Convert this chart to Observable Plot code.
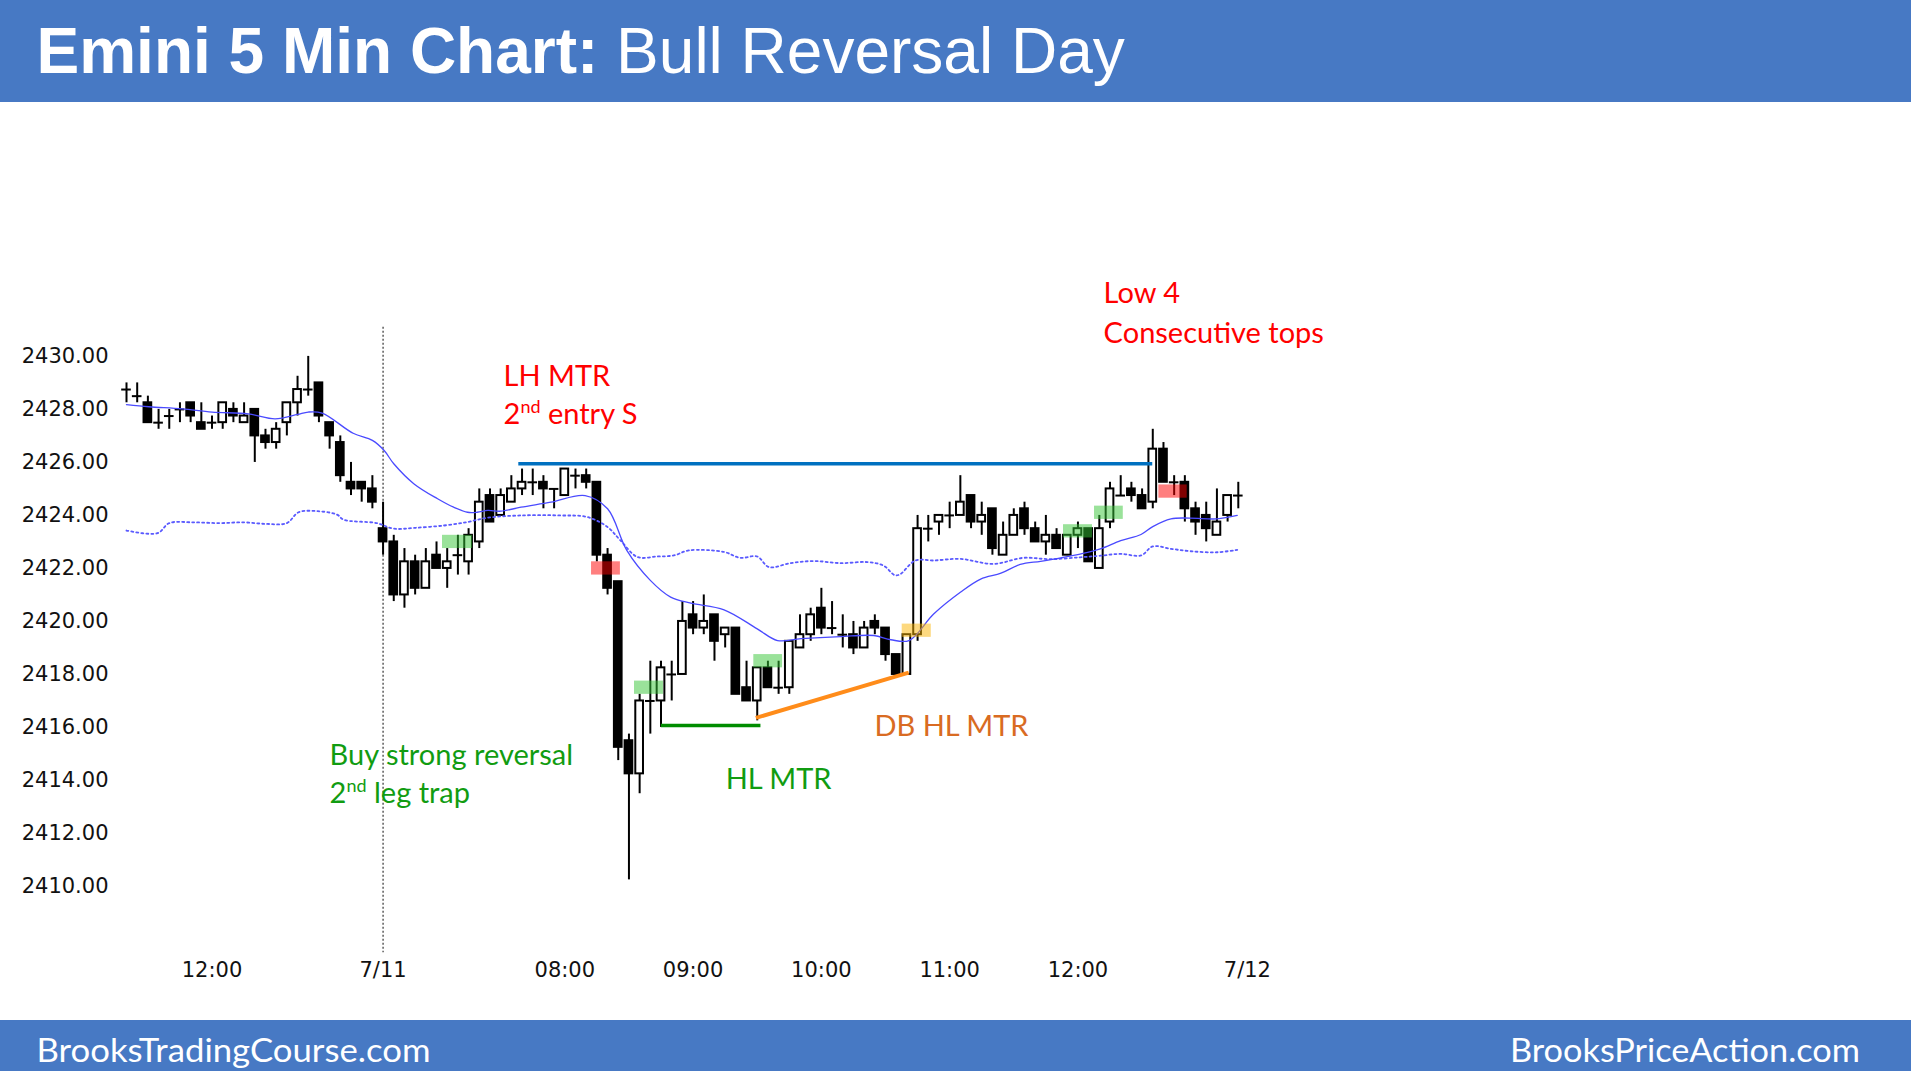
<!DOCTYPE html>
<html><head><meta charset="utf-8">
<script src="https://cdn.jsdelivr.net/npm/d3@7"></script>
<script src="https://cdn.jsdelivr.net/npm/@observablehq/plot@0.6"></script>
<style>
html,body{margin:0;padding:0;background:#fff;width:1911px;height:1071px;overflow:hidden;}
#header{position:absolute;left:0;top:0;width:1911px;height:102px;}
#chart{position:absolute;left:0;top:102px;}
#footer{position:absolute;left:0;top:1020px;width:1911px;height:51px;}
svg{display:block;}
</style></head><body>
<div id="header"></div><div id="chart"></div><div id="footer"></div>
<script>
// ---- texts ----
const titleBold = "Emini 5 Min Chart:";
const titleRest = "Bull Reversal Day";
const footerLeft = "BrooksTradingCourse.com";
const footerRight = "BrooksPriceAction.com";

// ---- OHLC, 5-min bars (index 1..105; bar 25 = first bar of 7/11) ----
const opens = [2428.75,2428.5,2428.25,2427.5,2427.75,2428.0,2428.25,2427.5,2427.5,2427.5,
2428.0,2427.5,2428.0,2427.0,2426.75,2427.5,2428.25,2428.75,2429.0,2427.5,
2426.75,2425.25,2425.25,2425.0,2423.5,2423.0,2421.0,2422.25,2421.25,2422.5,
2422.0,2422.5,2422.25,2423.0,2424.75,2424.0,2424.5,2425.0,2425.25,2425.25,
2425.0,2424.75,2425.5,2425.5,2425.25,2422.5,2421.5,2415.5,2414.25,2417.0,
2417.0,2418.0,2418.0,2420.25,2419.75,2420.25,2419.5,2419.75,2417.5,2417.0,
2418.25,2417.5,2417.5,2419.0,2419.5,2420.5,2419.75,2419.5,2419.5,2419.0,
2420.0,2419.75,2418.75,2418.0,2419.5,2423.5,2423.75,2424.0,2424.0,2424.75,
2423.75,2424.25,2422.5,2423.25,2424.25,2423.5,2423.0,2423.25,2422.5,2423.25,
2423.5,2422.0,2423.75,2424.75,2425.0,2424.75,2424.5,2426.5,2425.25,2425.25,
2424.25,2424.0,2423.25,2424.0,2424.75];
const highs = [2429.0,2429.0,2428.5,2428.0,2428.0,2428.25,2428.25,2428.25,2427.75,2428.25,
2428.25,2428.25,2428.0,2427.25,2427.5,2428.25,2429.25,2430.0,2429.0,2427.5,
2427.0,2426.0,2425.25,2425.5,2424.5,2423.25,2422.75,2422.5,2422.75,2423.0,
2422.75,2423.25,2423.5,2425.0,2425.0,2425.0,2425.5,2425.75,2425.75,2425.5,
2425.0,2425.75,2425.75,2425.75,2425.25,2422.75,2421.5,2415.75,2417.25,2418.5,
2418.5,2418.5,2420.75,2420.75,2421.0,2420.25,2419.75,2419.75,2418.5,2418.25,
2418.5,2418.5,2419.25,2420.25,2420.5,2421.25,2420.75,2420.25,2420.0,2420.0,
2420.25,2419.75,2418.75,2419.5,2424.0,2424.0,2424.0,2424.5,2425.5,2424.75,
2424.5,2424.25,2423.75,2424.25,2424.5,2423.75,2424.0,2423.5,2423.25,2423.75,
2423.5,2424.0,2425.25,2425.5,2425.25,2425.0,2427.25,2426.75,2425.5,2425.5,
2424.5,2424.5,2425.0,2424.75,2425.25];
const lows = [2428.25,2428.25,2427.5,2427.25,2427.25,2427.5,2427.5,2427.25,2427.25,2427.25,
2427.5,2427.5,2426.0,2426.5,2426.5,2427.0,2427.75,2428.5,2427.5,2426.5,
2425.25,2424.75,2424.5,2424.25,2422.5,2420.75,2420.5,2421.0,2421.25,2422.0,
2421.25,2421.75,2421.75,2422.75,2423.75,2424.0,2424.5,2424.75,2424.75,2424.25,
2424.25,2424.75,2425.0,2425.0,2422.25,2421.0,2414.75,2410.25,2413.5,2415.75,
2416.0,2417.0,2418.0,2419.5,2419.5,2418.5,2419.0,2417.25,2417.0,2416.25,
2417.5,2417.25,2417.25,2419.0,2419.25,2419.5,2419.5,2419.0,2418.75,2419.0,
2419.5,2418.5,2418.0,2418.0,2419.25,2423.0,2423.25,2423.5,2424.0,2423.5,
2423.25,2422.5,2422.5,2423.25,2423.25,2423.0,2422.5,2422.75,2422.5,2422.75,
2422.25,2422.0,2423.5,2424.75,2424.5,2424.25,2424.25,2425.25,2424.75,2423.75,
2423.25,2423.0,2423.25,2423.75,2424.25];
const closes = [2428.75,2428.5,2427.5,2427.5,2427.75,2428.0,2427.75,2427.25,2427.5,2428.25,
2427.75,2427.75,2427.0,2426.75,2427.25,2428.25,2428.75,2428.75,2427.75,2427.0,
2425.5,2425.0,2425.0,2424.5,2423.0,2421.0,2422.25,2421.25,2422.25,2422.0,
2422.25,2422.5,2423.25,2424.5,2423.75,2424.75,2425.0,2425.25,2425.25,2425.0,
2425.0,2425.75,2425.5,2425.25,2422.5,2421.25,2415.25,2414.25,2417.0,2417.0,
2418.25,2418.0,2420.0,2419.75,2420.0,2419.25,2419.75,2417.25,2417.0,2418.25,
2417.5,2417.5,2419.25,2419.5,2420.25,2419.75,2419.75,2419.5,2419.0,2419.75,
2419.75,2418.75,2418.0,2419.5,2423.5,2423.5,2424.0,2424.0,2424.5,2423.75,
2424.0,2422.75,2423.25,2424.0,2423.5,2423.0,2423.25,2422.75,2423.25,2423.5,
2422.25,2423.5,2425.0,2424.75,2424.75,2424.25,2426.5,2425.25,2425.25,2424.25,
2423.75,2423.5,2423.75,2424.75,2424.75];

// ---- moving average (solid) and dotted average: [bar, price] ----
const emaLine = [[1,2428.18],[3.1,2428.1],[6.2,2428.02],[9,2427.9],[12.4,2427.83],[14.9,2427.64],[17,2427.81],[18,2427.9],[19.3,2427.86],[22.2,2427.1],[24,2426.83],[25.1,2426.45],[26,2425.95],[27.9,2425.19],[30.1,2424.63],[31.6,2424.31],[32.9,2424.12],[33.8,2424.12],[34.8,2424.19],[36,2424.16],[37.9,2424.31],[40.7,2424.5],[43.9,2424.75],[46,2424.25],[47.8,2422.68],[50,2421.55],[51.9,2420.92],[53.8,2420.69],[56.9,2420.44],[60,2419.72],[61.9,2419.28],[64.1,2419.35],[67.8,2419.43],[70.9,2419.47],[72.5,2419.31],[74.2,2419.28],[76.5,2420.28],[79,2421.1],[80.9,2421.6],[82.8,2421.82],[84.6,2422.15],[86.5,2422.27],[88.4,2422.4],[90.3,2422.55],[92.1,2422.74],[94,2423.05],[95.9,2423.28],[97,2423.58],[98.7,2423.87],[100.5,2423.9],[103,2423.87],[104.9,2424.0]];
const dottedLine = [[1,2423.43],[3.9,2423.33],[5,2423.71],[7.2,2423.74],[9.7,2423.71],[11.9,2423.74],[14.1,2423.68],[16,2423.71],[17.1,2424.12],[18.9,2424.16],[20.7,2424.03],[21.3,2423.84],[24.4,2423.71],[26,2423.5],[27.9,2423.53],[30.7,2423.62],[32.9,2423.75],[34.7,2423.91],[37.9,2424.0],[41.6,2424.0],[44.1,2423.94],[46,2423.56],[47.2,2423.06],[48.8,2422.43],[50.6,2422.45],[52.2,2422.49],[53.6,2422.68],[56.9,2422.62],[58.4,2422.4],[60,2422.45],[61.1,2422.05],[63.1,2422.2],[65.3,2422.28],[67.8,2422.2],[70.3,2422.24],[71.8,2422.11],[72.9,2421.74],[73.4,2421.79],[74.8,2422.3],[76.5,2422.3],[79,2422.36],[82.1,2422.17],[84.9,2422.4],[87.4,2422.35],[90.2,2422.42],[92.1,2422.48],[94,2422.55],[95.9,2422.49],[97,2422.83],[98.7,2422.74],[100.5,2422.65],[103,2422.61],[104.9,2422.7]];

// ---- axes ----
const yTicks = [2410,2412,2414,2416,2418,2420,2422,2424,2426,2428,2430];
const xTickPos = [9,25,42,54,66,78,90,105.85];
const xTickLabels = ["12:00","7/11","08:00","09:00","10:00","11:00","12:00","7/12"];
const sessionBreak = [{x:25, top:2431.1, bottom:2407.5}];

// ---- highlight boxes [x1, x2, y1, y2] ----
const greenBoxes = [[30.56,33.37,2422.75,2423.25],[48.52,51.23,2417.25,2417.75],[59.68,62.37,2418.25,2418.75],[88.65,91.36,2423.15,2423.65],[91.55,94.24,2423.85,2424.35]];
const redBoxes = [[44.5,47.2,2421.75,2422.25],[97.57,100.22,2424.65,2425.15]];
const yellowBoxes = [[73.56,76.28,2419.4,2419.9]];

// ---- drawn lines ----
const segX1 = [37.65,50.98,59.87];
const segY1 = [2425.95,2416.07,2416.36];
const segX2 = [96.95,60.3,74.17];
const segY2 = [2425.95,2416.07,2418.07];
const segColors = ["#0070c0","#008c00","#ff8c1a"];
const segWidths = [3.5,3.5,4];

// ---- annotations ----
const annoTexts = ["LH MTR","2^nd entry S","Low 4","Consecutive tops","Buy strong reversal","2^nd leg trap","HL MTR","DB HL MTR"];
const annoX = [36.27,36.27,92.4,92.4,20.0,20.0,57.05,70.96];
const annoY = [2429.22,2427.79,2432.35,2430.87,2414.92,2413.49,2414.04,2416.02];
const annoColors = ["#ff0000","#ff0000","#ff0000","#ff0000","#119c11","#119c11","#119c11","#d96b22"];

// ---- build ----
const bars = opens.map((o,k)=>({i:k+1,o,h:highs[k],l:lows[k],c:closes[k]}));
const up = bars.filter(d=>d.c>d.o), down = bars.filter(d=>d.c<d.o), flat = bars.filter(d=>d.c===d.o);
const hb = 0.36, hd = 0.45;
const boxes = (arr, fill, op) => Plot.rect(arr, {x1:d=>d[0], x2:d=>d[1], y1:d=>d[2], y2:d=>d[3], fill, fillOpacity:op, inset:0});
const segs = segX1.map((x,k)=>({x1:x,y1:segY1[k],x2:segX2[k],y2:segY2[k],color:segColors[k],w:segWidths[k]}));
const annos = annoTexts.map((t,k)=>({t,x:annoX[k],y:annoY[k],color:annoColors[k]}));
const labelAt = new Map(xTickPos.map((p,k)=>[p,xTickLabels[k]]));

const chart = Plot.plot({
  width:1911, height:918,
  marginLeft:110, marginRight:0, marginTop:0, marginBottom:68,
  x:{type:"linear", domain:[1,105], range:[126,1237.8]},
  y:{type:"linear", domain:[2410,2430], range:[784.0,253.9]},
  style:{background:"transparent", overflow:"visible", color:"#111"},
  marks:[
    Plot.axisY(yTicks, {tickSize:0, tickPadding:2, tickFormat:d=>d.toFixed(2), fontSize:21, fontFamily:"DejaVu Sans", fill:"#111", label:null}),
    Plot.axisX(xTickPos, {tickSize:0, tickPadding:10, tickFormat:d=>labelAt.get(d), fontSize:21, fontFamily:"DejaVu Sans", fill:"#111", label:null}),
    Plot.ruleX(sessionBreak, {x:"x", y1:"top", y2:"bottom", stroke:"#333", strokeWidth:1.2, strokeDasharray:"2,2"}),
    Plot.ruleX(bars, {x:"i", y1:"l", y2:"h", stroke:"#000", strokeWidth:2}),
    Plot.rect(up, {x1:d=>d.i-hb, x2:d=>d.i+hb, y1:"o", y2:"c", fill:"#fff", stroke:"#000", strokeWidth:2, inset:0}),
    Plot.rect(down, {x1:d=>d.i-hb, x2:d=>d.i+hb, y1:"o", y2:"c", fill:"#000", stroke:"#000", strokeWidth:2, inset:0}),
    Plot.ruleY(flat, {y:"c", x1:d=>d.i-hd, x2:d=>d.i+hd, stroke:"#000", strokeWidth:2}),
    Plot.line(dottedLine, {x:d=>d[0], y:d=>d[1], stroke:"#5a5aff", strokeWidth:1.8, strokeDasharray:"2,3", curve:"catmull-rom"}),
    Plot.line(emaLine, {x:d=>d[0], y:d=>d[1], stroke:"#4a4aff", strokeWidth:1.3, curve:"catmull-rom"}),
    boxes(greenBoxes, "#36c636", 0.5),
    boxes(redBoxes, "#ff0000", 0.5),
    boxes(yellowBoxes, "#fbb400", 0.5),
    Plot.link(segs, {x1:"x1", y1:"y1", x2:"x2", y2:"y2", stroke:d=>d.color, strokeWidth:d=>d.w}),
    Plot.text(annos, {x:"x", y:"y", text:"t", fill:d=>d.color, textAnchor:"start", lineAnchor:"middle", fontSize:29, fontFamily:"Lato"})
  ]
});
document.getElementById("chart").appendChild(chart);

// superscripts ("2^nd")
d3.select(chart).selectAll("text").each(function(){
  const s = this.textContent;
  const m = s.match(/^(.*?)\^(\w+)(.*)$/);
  if (!m) return;
  const el = d3.select(this); el.text(null);
  el.append("tspan").text(m[1]);
  el.append("tspan").attr("dy","-11").attr("font-size","18").text(m[2]);
  el.append("tspan").attr("dy","11").text(m[3]);
});

// header
const hs = d3.select("#header").append("svg").attr("width",1911).attr("height",102);
hs.append("rect").attr("width",1911).attr("height",102).attr("fill","#4779c4");
const tt = hs.append("text").attr("x",36.5).attr("y",73).attr("fill","#fff")
  .attr("font-family","Liberation Sans, Arial, sans-serif").attr("font-size",64);
tt.append("tspan").attr("font-weight","bold").text(titleBold);
tt.append("tspan").text(" " + titleRest);

// footer
const fs = d3.select("#footer").append("svg").attr("width",1911).attr("height",51);
fs.append("rect").attr("width",1911).attr("height",51).attr("fill","#4779c4");
fs.append("text").attr("x",36.5).attr("y",42).attr("fill","#fff").attr("font-family","Lato").attr("font-size",32)
  .attr("textLength",394).attr("lengthAdjust","spacingAndGlyphs").text(footerLeft);
fs.append("text").attr("x",1510).attr("y",42).attr("fill","#fff").attr("font-family","Lato").attr("font-size",32)
  .attr("textLength",350).attr("lengthAdjust","spacingAndGlyphs").text(footerRight);
</script>
</body></html>
